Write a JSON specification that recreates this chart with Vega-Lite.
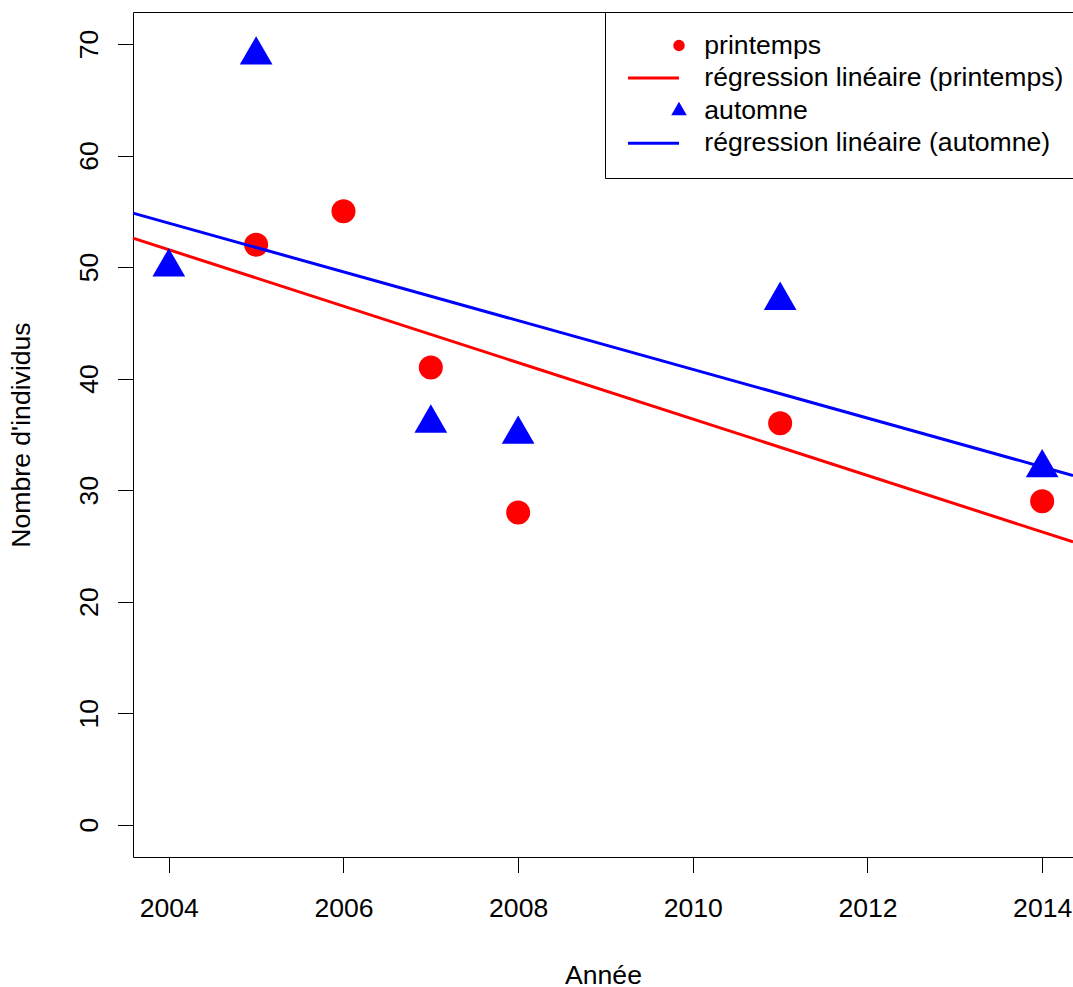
{
  "$schema": "https://vega.github.io/schema/vega-lite/v6.json",
  "width": 940,
  "height": 845,
  "autosize": {"type": "none"},
  "padding": {"left": 133, "top": 12, "right": 0, "bottom": 130},
  "background": "white",
  "config": {
    "view": {"stroke": null},
    "font": "Liberation Sans",
    "axis": {
      "grid": false,
      "domainColor": "black",
      "domainWidth": 1,
      "tickColor": "black",
      "tickWidth": 1,
      "tickSize": 15.5,
      "labelColor": "black",
      "labelFont": "Liberation Sans",
      "labelFontSize": 26.6,
      "labelFlush": false,
      "labelOverlap": false,
      "titleColor": "black",
      "titleFont": "Liberation Sans",
      "titleFontSize": 26.6,
      "titleFontWeight": "normal"
    },
    "legend": {
      "labelFont": "Liberation Sans",
      "labelFontSize": 26.6,
      "labelColor": "black",
      "labelLimit": 2000,
      "symbolSize": 130,
      "symbolStrokeWidth": 0,
      "symbolFillColor": "#000000",
      "symbolStrokeColor": "transparent",
      "symbolOpacity": 1
    }
  },
  "datasets": {
    "printemps": [
      {"annee": 2005, "n": 52, "saison": "printemps", "droite": "régression linéaire (printemps)"},
      {"annee": 2006, "n": 55, "saison": "printemps", "droite": "régression linéaire (printemps)"},
      {"annee": 2007, "n": 41, "saison": "printemps", "droite": "régression linéaire (printemps)"},
      {"annee": 2008, "n": 28, "saison": "printemps", "droite": "régression linéaire (printemps)"},
      {"annee": 2011, "n": 36, "saison": "printemps", "droite": "régression linéaire (printemps)"},
      {"annee": 2014, "n": 29, "saison": "printemps", "droite": "régression linéaire (printemps)"}
    ],
    "automne": [
      {"annee": 2004, "n": 50, "saison": "automne", "droite": "régression linéaire (automne)"},
      {"annee": 2005, "n": 69, "saison": "automne", "droite": "régression linéaire (automne)"},
      {"annee": 2007, "n": 36, "saison": "automne", "droite": "régression linéaire (automne)"},
      {"annee": 2008, "n": 35, "saison": "automne", "droite": "régression linéaire (automne)"},
      {"annee": 2011, "n": 47, "saison": "automne", "droite": "régression linéaire (automne)"},
      {"annee": 2014, "n": 32, "saison": "automne", "droite": "régression linéaire (automne)"}
    ]
  },
  "resolve": {"axis": {"x": "independent"}},
  "layer": [
    {
      "data": {"name": "printemps"},
      "mark": {"type": "point", "filled": true, "opacity": 1},
      "encoding": {
        "x": {
          "field": "annee", "type": "quantitative",
          "scale": {"domain": [2003.59, 2014.353], "nice": false, "zero": false},
          "axis": {
            "orient": "bottom",
            "values": [2004, 2006, 2008, 2010, 2012, 2014],
            "format": "d",
            "title": "Année",
            "domain": true,
            "labelBaseline": "top",
            "labelPadding": 23,
            "titleBaseline": "alphabetic",
            "titlePadding": 61
          }
        },
        "y": {
          "field": "n", "type": "quantitative",
          "scale": {"domain": [-2.9, 72.87], "nice": false, "zero": false},
          "axis": {
            "values": [0, 10, 20, 30, 40, 50, 60, 70],
            "title": "Nombre d'individus",
            "domain": true,
            "labelAngle": 270,
            "labelAlign": "center",
            "labelBaseline": "alphabetic",
            "labelPadding": 20.5,
            "titleAngle": 270,
            "titleBaseline": "alphabetic",
            "titlePadding": 47
          }
        },
        "color": {
          "field": "saison", "type": "nominal",
          "scale": {
            "domain": ["printemps", "régression linéaire (printemps)", "automne", "régression linéaire (automne)"],
            "range": ["#FF0000", "#FF0000", "#0000FF", "#0000FF"]
          },
          "legend": {
            "title": null, "orient": "none", "legendX": 472, "legendY": 0, "direction": "vertical",
            "padding": 20.2, "rowPadding": 5.6, "symbolSize": 130, "symbolStrokeWidth": 0,
            "symbolOffset": 40.5, "labelOffset": 12, "strokeColor": "black", "fillColor": "white",
            "cornerRadius": 0, "labelBaseline": "middle"
          }
        },
        "shape": {
          "field": "saison", "type": "nominal",
          "scale": {
            "domain": ["printemps", "régression linéaire (printemps)", "automne", "régression linéaire (automne)"],
            "range": ["circle", "M-8.95,-0.26L0,-0.26L0,0.26L-8.95,0.26Z", "M0,-1.575L1.364,0.7875L-1.364,0.7875Z", "M-8.95,-0.26L0,-0.26L0,0.26L-8.95,0.26Z"]
          },
          "legend": {
            "title": null, "orient": "none", "legendX": 472, "legendY": 0, "direction": "vertical",
            "padding": 20.2, "rowPadding": 5.6, "symbolSize": 130, "symbolStrokeWidth": 0,
            "symbolOffset": 40.5, "labelOffset": 12, "strokeColor": "black", "fillColor": "white",
            "cornerRadius": 0, "labelBaseline": "middle"
          }
        },
        "size": {
          "field": "saison", "type": "ordinal",
          "scale": {"domain": ["printemps", "automne"], "range": [576, 576]},
          "legend": null
        }
      }
    },
    {
      "data": {"name": "printemps"},
      "transform": [
        {"regression": "n", "on": "annee", "groupby": ["droite"], "extent": [2003.59, 2014.353]}
      ],
      "mark": {"type": "line", "strokeWidth": 3},
      "encoding": {
        "x": {
          "field": "annee", "type": "quantitative",
          "axis": {"orient": "top", "labels": false, "ticks": false, "title": null, "domain": true}
        },
        "y": {"field": "n", "type": "quantitative"},
        "color": {"field": "droite", "type": "nominal"}
      }
    },
    {
      "data": {"name": "automne"},
      "mark": {"type": "point", "filled": true, "opacity": 1},
      "encoding": {
        "x": {"field": "annee", "type": "quantitative", "axis": null},
        "y": {"field": "n", "type": "quantitative"},
        "color": {"field": "saison", "type": "nominal"},
        "shape": {"field": "saison", "type": "nominal"},
        "size": {"field": "saison", "type": "ordinal", "legend": null}
      }
    },
    {
      "data": {"name": "automne"},
      "transform": [
        {"regression": "n", "on": "annee", "groupby": ["droite"], "extent": [2003.59, 2014.353]}
      ],
      "mark": {"type": "line", "strokeWidth": 3},
      "encoding": {
        "x": {"field": "annee", "type": "quantitative", "axis": null},
        "y": {"field": "n", "type": "quantitative"},
        "color": {"field": "droite", "type": "nominal"}
      }
    }
  ]
}
